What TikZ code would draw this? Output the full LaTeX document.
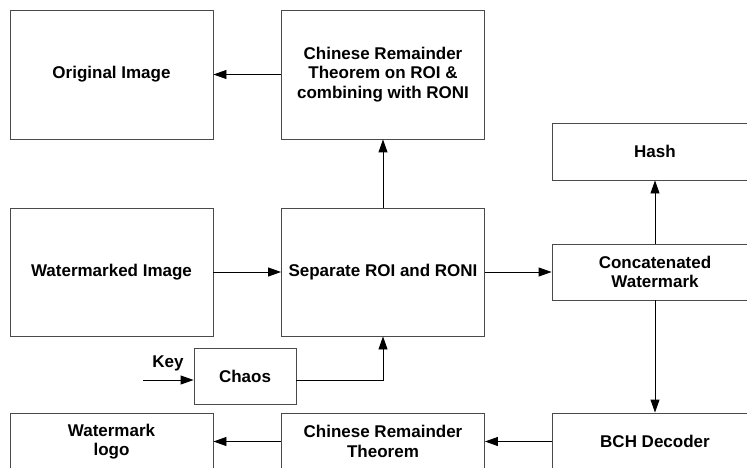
\documentclass[tikz,border=0pt]{standalone}
\usepackage{fontspec}
\setmainfont{Liberation Sans}
\usetikzlibrary{arrows.meta}
\definecolor{boxgray}{HTML}{4A4A4A}
\begin{document}
\begin{tikzpicture}[x=1pt,y=-1pt,
  box/.style={draw=boxgray, line width=0.9pt, inner sep=0pt, align=center,
    font=\bfseries\fontsize{17}{19.5}\selectfont},
  big/.style={box, minimum width=203pt, minimum height=129pt},
  small/.style={box, minimum width=203pt, minimum height=57pt},
  conn/.style={line width=0.9pt, -{Triangle[length=13pt,width=9pt]}}]
\path[use as bounding box] (0,0) rectangle (747,468);
\clip (0,0) rectangle (747,468);
\node[big] (orig) at (111.5,74.5) {Original Image};
\node[big] (crt) at (383,74.5) {Chinese Remainder\\Theorem on ROI \&\\combining with RONI};
\node[big, minimum height=128pt] (wm) at (111.5,272) {Watermarked Image};
\node[big, minimum height=128pt] (sep) at (383,272) {Separate ROI and RONI};
\node[small, minimum width=206pt] (hash) at (655,151.5) {Hash};
\node[small, minimum width=206pt, minimum height=56pt] (concat) at (655,272) {Concatenated\\Watermark};
\node[box, minimum width=102pt, minimum height=56pt] (chaos) at (245,376) {Chaos};
\node[small] (logo) at (111.5,441.5) {Watermark\\logo};
\node[small] (crt2) at (383,441.5) {Chinese Remainder\\Theorem};
\node[small, minimum width=206pt] (bch) at (655,441.5) {BCH Decoder};
\node[font=\bfseries\fontsize{17}{19.5}\selectfont, inner sep=0pt] (key) at (168,363) {Key};
\coordinate (keyin) at (143,380);
\draw[conn] (crt.west) -- (orig.east);
\draw[conn] (sep.north) -- (crt.south);
\draw[conn] (wm.east) -- (sep.west);
\draw[conn] (sep.east) -- (concat.west);
\draw[conn] (concat.north) -- (hash.south);
\draw[conn] (concat.south) -- (bch.north);
\draw[conn] (bch.west) -- (crt2.east);
\draw[conn] (crt2.west) -- (logo.east);
\draw[conn] (keyin) -- (chaos.west |- keyin);
\draw[conn] (chaos.east |- keyin) -| (sep.south);
\end{tikzpicture}
\end{document}
